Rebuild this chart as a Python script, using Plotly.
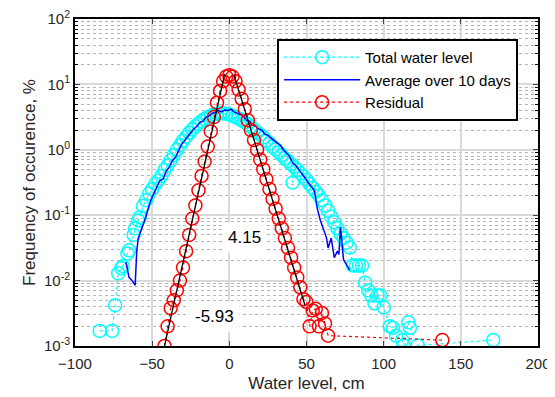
import math
import plotly.graph_objects as go

# ---- data (x in cm, y as frequency %) ----
total_x = [-84, -76, -74, -72, -70, -69, -66, -65, -62, -61, -59, -58, -56, -54, -52, -50,
           -48, -46, -44, -42, -40, -38, -36, -34, -32, -30, -28, -26, -24, -22, -20, -18,
           -16, -14, -12, -10, -8, -6, -4, -2, 0, 2, 4, 6, 8, 10, 12, 14, 16, 18, 20, 22,
           24, 26, 28, 30, 32, 34, 36, 38, 40, 41, 42, 44, 46, 48, 50, 52, 54, 56, 58, 60,
           62, 64, 66, 68, 70, 72, 74, 76, 78, 80, 82, 84, 86, 88, 90, 92, 94, 96, 98, 100,
           104, 106, 108, 112, 113, 116, 117, 122, 171]
total_y = [0.0017, 0.0017, 0.0042, 0.0129, 0.0155, 0.0166, 0.026, 0.029, 0.050, 0.063,
           0.083, 0.093, 0.138, 0.170, 0.214, 0.251, 0.302, 0.339, 0.398, 0.490, 0.575,
           0.692, 0.832, 1.00, 1.17, 1.38, 1.58, 1.82, 2.04, 2.29, 2.51, 2.75, 2.95, 3.16,
           3.31, 3.47, 3.55, 3.63, 3.63, 3.55, 3.47, 3.31, 3.16, 3.02, 2.82, 2.63, 2.45,
           2.24, 2.04, 1.86, 1.70, 1.55, 1.38, 1.26, 1.12, 1.02, 0.912, 0.832, 0.741,
           0.676, 0.603, 0.316, 0.550, 0.490, 0.437, 0.389, 0.347, 0.302, 0.263, 0.229,
           0.200, 0.170, 0.141, 0.117, 0.095, 0.078, 0.063, 0.052, 0.045, 0.038, 0.032,
           0.017, 0.017, 0.017, 0.017, 0.0093, 0.0071, 0.0059, 0.0045, 0.0059, 0.0059,
           0.0039, 0.0020, 0.0019, 0.00144, 0.00123, 0.00102, 0.0023, 0.0019, 0.00102, 0.00123]

avg_x = [-67, -66, -65, -63, -61, -60, -59, -57, -55.5, -54, -53, -51, -49, -47, -45, -43,
         -41, -39, -37, -35, -33, -31, -29, -27, -25, -23, -21, -19, -17, -15, -13, -11,
         -9, -7, -5, -3, -1, 1, 3, 5, 7, 9, 11, 13, 15, 17, 19, 21, 23, 25, 27, 29, 31, 33,
         35, 37, 39, 41, 43, 45, 47, 49, 51, 53, 55, 56, 57, 59, 61, 63, 64, 66, 67, 68,
         70, 71, 72, 74, 76, 78]
avg_y = [0.0191, 0.0141, 0.0112, 0.0100, 0.0085, 0.0282, 0.0447, 0.0603, 0.0741, 0.0955,
         0.117, 0.166, 0.214, 0.263, 0.339, 0.355, 0.468, 0.537, 0.676, 0.759, 0.955,
         1.20, 1.38, 1.58, 1.78, 2.09, 2.29, 2.63, 2.75, 3.16, 3.31, 3.63, 3.72, 3.98,
         3.80, 4.07, 3.98, 4.17, 3.80, 3.63, 3.55, 3.31, 2.82, 2.75, 2.40, 2.29, 2.09,
         2.00, 1.74, 1.66, 1.51, 1.38, 1.26, 1.17, 1.00, 0.891, 0.794, 0.631, 0.575,
         0.501, 0.437, 0.372, 0.316, 0.275, 0.240, 0.178, 0.126, 0.083, 0.063, 0.0447,
         0.0316, 0.0447, 0.0316, 0.0224, 0.0282, 0.0251, 0.0661, 0.0209, 0.0174, 0.0145]

resid_x = [-42, -40, -38, -36, -34, -32, -30, -28, -26, -24, -22, -20, -18, -16, -14, -12,
           -10, -8, -6, -4, -2, 0, 2, 4, 6, 8, 10, 12, 14, 16, 18, 20, 22, 24, 26, 28, 30,
           32, 34, 36, 38, 40, 42, 44, 46, 48, 50, 52, 54, 56, 58, 60, 62, 64, 138]
resid_y = [0.00100, 0.0020, 0.0038, 0.0050, 0.0071, 0.0100, 0.0158, 0.0282, 0.050, 0.089,
           0.141, 0.240, 0.398, 0.661, 1.12, 1.91, 3.16, 5.25, 7.94, 11.2, 13.2, 13.8,
           13.2, 11.2, 8.32, 6.03, 4.17, 2.82, 2.00, 1.41, 1.00, 0.708, 0.501, 0.355,
           0.251, 0.178, 0.126, 0.089, 0.063, 0.0447, 0.0316, 0.0224, 0.0158, 0.0112,
           0.0079, 0.0052, 0.0047, 0.0020, 0.0035, 0.0037, 0.0020, 0.0032, 0.0022,
           0.00144, 0.00123]

fit_left_x = [-42, -3]
fit_left_y = [0.0010, 14.5]
fit_right_x = [3, 49]
fit_right_y = [14.0, 0.0042]

slope_labels = ["4.15", "-5.93"]
slope_label_x = [10, -9.7]
slope_label_y = [0.046, 0.0028]

ytick_vals = [1e-3, 1e-2, 1e-1, 1, 10, 100]
ytick_text = ["10<sup>-3</sup>", "10<sup>-2</sup>", "10<sup>-1</sup>",
              "10<sup>0</sup>", "10<sup>1</sup>", "10<sup>2</sup>"]
xtick_vals = [-100, -50, 0, 50, 100, 150, 200]

FONT = "Liberation Sans"
TXT = "#262626"

fig = go.Figure()
fig.add_trace(go.Scatter(
    x=total_x, y=total_y, name="Total water level", mode="lines+markers",
    line=dict(color="#00FFFF", width=1.2, dash="dot"),
    marker=dict(symbol="circle-open", size=13, color="#00FFFF", line=dict(width=1.5)),
))
fig.add_trace(go.Scatter(
    x=avg_x, y=avg_y, name="Average over 10 days", mode="lines",
    line=dict(color="#0000FF", width=1.5),
))
fig.add_trace(go.Scatter(
    x=resid_x, y=resid_y, name="Residual", mode="lines+markers",
    line=dict(color="#FF0000", width=1.2, dash="dot"),
    marker=dict(symbol="circle-open", size=13, color="#FF0000", line=dict(width=1.5)),
))
fig.add_trace(go.Scatter(x=fit_left_x, y=fit_left_y, mode="lines", showlegend=False,
                         line=dict(color="black", width=1.3)))
fig.add_trace(go.Scatter(x=fit_right_x, y=fit_right_y, mode="lines", showlegend=False,
                         line=dict(color="black", width=1.3)))

for t, ax, ay in zip(slope_labels, slope_label_x, slope_label_y):
    fig.add_annotation(x=ax, y=math.log10(ay), yref="y", xref="x", text=t, showarrow=False,
                       font=dict(size=17, color="black", family=FONT),
                       bgcolor="white", borderpad=5)

# page body has an 8px margin: size/margins compensate so the plot area lands at
# x 75..538, y 19..346 in the 555x397 window
fig.update_layout(
    width=547, height=389,
    margin=dict(l=67, r=17, t=11, b=51),
    paper_bgcolor="white", plot_bgcolor="white",
    font=dict(family=FONT, size=14, color=TXT),
    legend=dict(x=0.957, y=0.939, xanchor="right", yanchor="top",
                bgcolor="white", bordercolor="black", borderwidth=2,
                font=dict(size=15, color="black", family=FONT),
                tracegroupgap=0, itemwidth=76),
)
fig.update_xaxes(
    range=[-100, 200], tickvals=xtick_vals, ticks="inside", ticklen=5,
    showline=True, linecolor="black", linewidth=2, mirror="ticks",
    showgrid=True, gridcolor="#d9d9d9", gridwidth=1.5, zeroline=False, automargin=False,
    tickfont=dict(size=15, color=TXT), ticklabelstandoff=3, ticklabeloverflow="allow",
    title=dict(text="Water level, cm", font=dict(size=17, color=TXT), standoff=6),
)
fig.update_yaxes(
    type="log", range=[-3, 2], tickvals=ytick_vals, ticktext=ytick_text,
    ticks="inside", ticklen=5, automargin=False, ticklabeloverflow="allow",
    showline=True, linecolor="black", linewidth=2, mirror="ticks",
    showgrid=True, gridcolor="#d9d9d9", gridwidth=1.5, zeroline=False,
    minor=dict(ticks="inside", ticklen=3, showgrid=True, gridcolor="#b4b4b4",
               griddash="dot", gridwidth=1, tickcolor="black", dtick="D1"),
    tickfont=dict(size=15, color=TXT),
    title=dict(text="Frequency of occurence, %", font=dict(size=17, color=TXT), standoff=4),
)

fig.write_html("out.html")
